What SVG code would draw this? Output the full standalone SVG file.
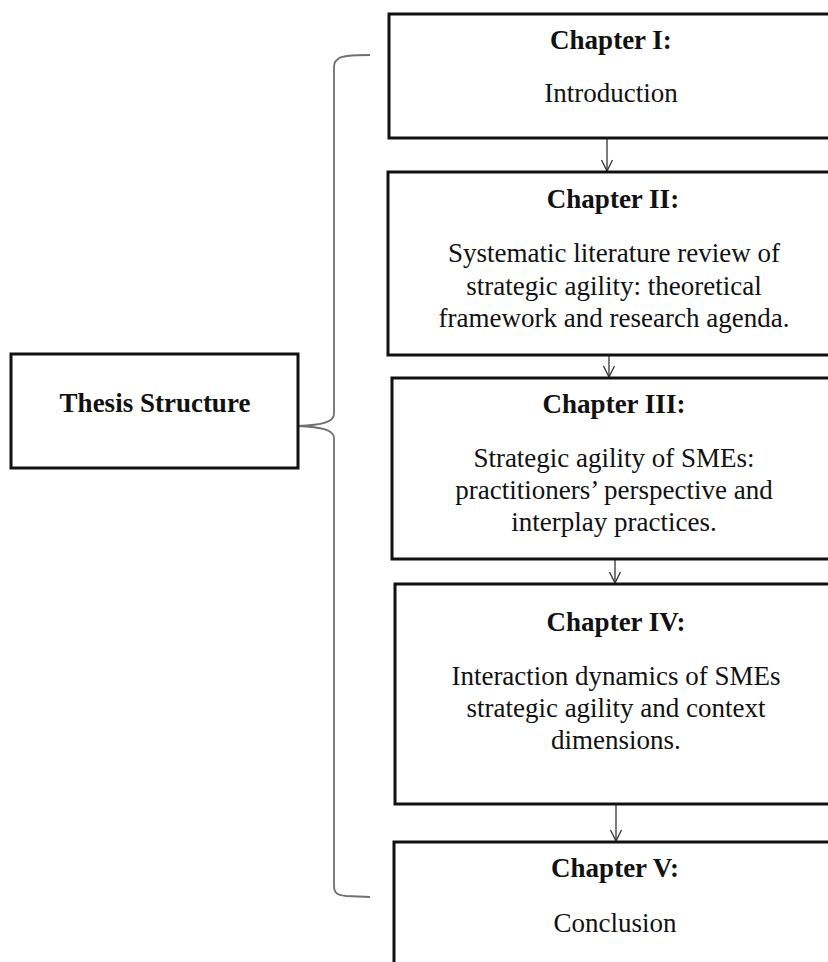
<svg xmlns="http://www.w3.org/2000/svg" width="828" height="962" viewBox="0 0 828 962">
  <style>
    .box { fill: #ffffff; stroke: #111111; stroke-width: 3; }
    .title { font-family: "Liberation Serif", "Times New Roman", serif; font-size: 27px; font-weight: bold; fill: #111111; text-anchor: middle; }
    .body { font-family: "Liberation Serif", "Times New Roman", serif; font-size: 27px; fill: #111111; text-anchor: middle; }
    .conn { fill: none; stroke: #333333; stroke-width: 1.3; }
    .brace { fill: none; stroke: #707070; stroke-width: 1.8; }
  </style>
  <defs>
    <!-- open V arrowhead, drawn along +x so orient="auto" points it down the line -->
    <marker id="vhead" markerWidth="14" markerHeight="14" refX="12" refY="7" orient="auto" markerUnits="userSpaceOnUse" viewBox="0 0 14 14">
      <path d="M1,1.5 L12,7 L1,12.5" fill="none" stroke="#333333" stroke-width="1.3"/>
    </marker>
  </defs>

  <rect width="828" height="962" fill="#ffffff"/>

  <!-- brace grouping the chapters -->
  <g id="brace">
    <path class="brace" d="M370,55 C352,55 340,56 338,59 C334,62 334,64 334,70 L334,414 C334,422 322,425 298,426 C322,427 334,430 334,438 L334,886 C334,892 336,895 346,896 L370,897"/>
  </g>

  <!-- connectors between chapters -->
  <g id="connectors">
    <line class="conn" x1="607" y1="139" x2="607" y2="171" marker-end="url(#vhead)"/>
    <line class="conn" x1="609" y1="356" x2="609" y2="377" marker-end="url(#vhead)"/>
    <line class="conn" x1="615" y1="560" x2="615" y2="583" marker-end="url(#vhead)"/>
    <line class="conn" x1="616" y1="805" x2="616" y2="841" marker-end="url(#vhead)"/>
  </g>

  <g id="thesis">
    <rect class="box" x="11" y="354" width="287" height="114"/>
    <text class="title" x="155" y="412">Thesis Structure</text>
  </g>

  <g id="chapter1">
    <rect class="box" x="389" y="14" width="450" height="124"/>
    <text class="title" x="611" y="49">Chapter I:</text>
    <text class="body" x="611" y="102">Introduction</text>
  </g>

  <g id="chapter2">
    <rect class="box" x="388" y="172" width="450" height="183"/>
    <text class="title" x="613" y="208">Chapter II:</text>
    <text class="body" x="614" y="262">Systematic literature review of</text>
    <text class="body" x="614" y="295">strategic agility: theoretical</text>
    <text class="body" x="614" y="327">framework and research agenda.</text>
  </g>

  <g id="chapter3">
    <rect class="box" x="392" y="378" width="450" height="181"/>
    <text class="title" x="614" y="413">Chapter III:</text>
    <text class="body" x="614" y="467">Strategic agility of SMEs:</text>
    <text class="body" x="614" y="499">practitioners’ perspective and</text>
    <text class="body" x="614" y="531">interplay practices.</text>
  </g>

  <g id="chapter4">
    <rect class="box" x="395" y="584" width="450" height="220"/>
    <text class="title" x="616" y="631">Chapter IV:</text>
    <text class="body" x="616" y="685">Interaction dynamics of SMEs</text>
    <text class="body" x="616" y="717">strategic agility and context</text>
    <text class="body" x="616" y="749">dimensions.</text>
  </g>

  <g id="chapter5">
    <rect class="box" x="394" y="842" width="450" height="140"/>
    <text class="title" x="615" y="877">Chapter V:</text>
    <text class="body" x="615" y="932">Conclusion</text>
  </g>
</svg>
